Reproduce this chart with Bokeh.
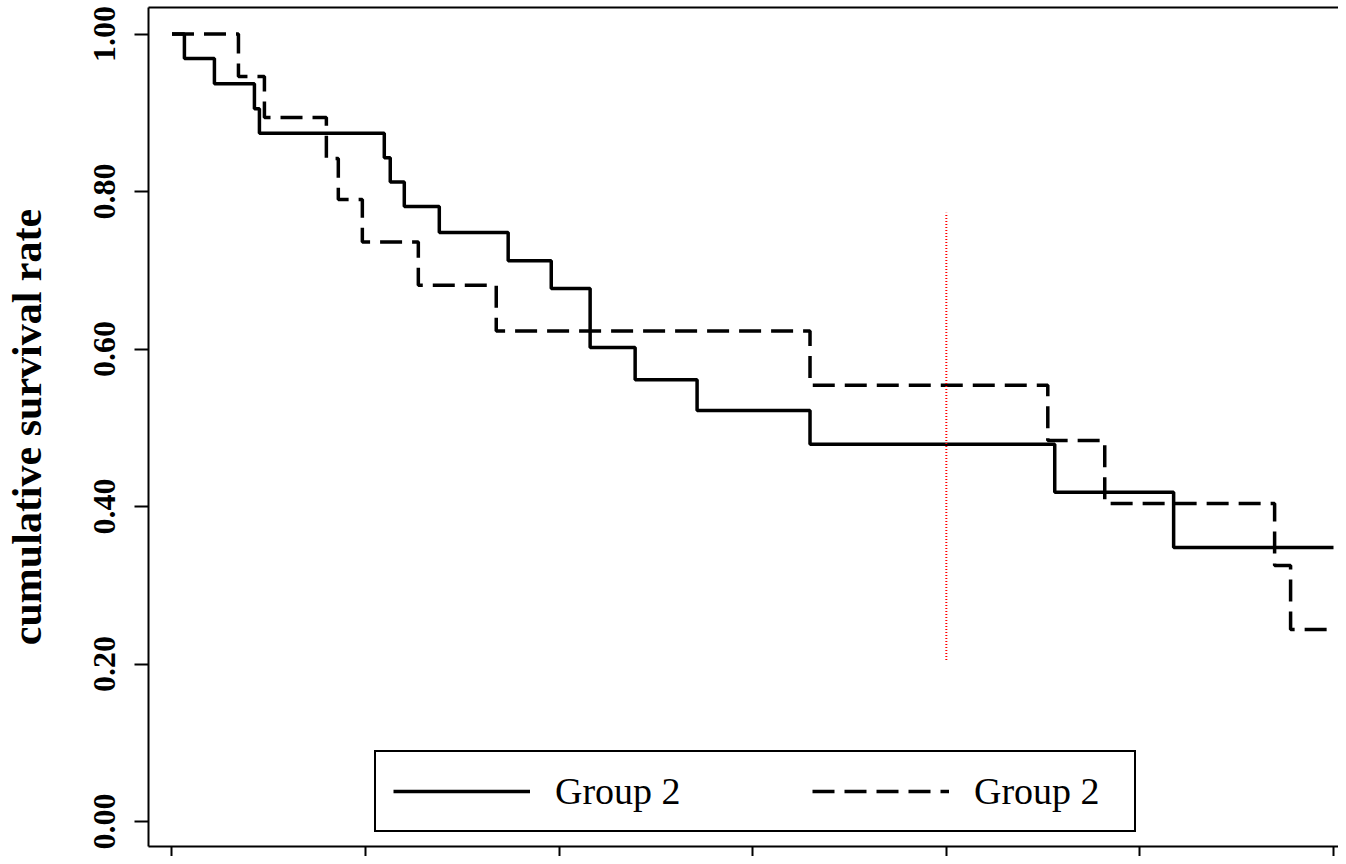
from bokeh.plotting import figure
from bokeh.models import (Range1d, LinearAxis, FixedTicker, NumeralTickFormatter,
                          Legend, LegendItem)
from bokeh.embed import file_html
from bokeh.resources import INLINE

# ---------------- data ----------------
solid_time = [0, 0.77, 2.63, 5.11, 5.42, 13.16, 13.53, 14.40, 16.57, 20.84,
              23.51, 25.92, 28.71, 32.55, 39.55, 54.72, 62.09, 72.0]
solid_surv = [1.0, 0.969, 0.937, 0.905, 0.874, 0.843, 0.812, 0.781, 0.748, 0.712,
              0.677, 0.602, 0.561, 0.522, 0.479, 0.418, 0.348, 0.348]
dash_time = [0, 4.12, 5.73, 9.57, 10.31, 11.80, 15.27, 20.10, 39.55, 54.29,
             57.82, 68.35, 69.34, 72.0]
dash_surv = [1.0, 0.946, 0.894, 0.842, 0.790, 0.736, 0.681, 0.623, 0.554, 0.484,
             0.404, 0.325, 0.244, 0.244]
x_ticks = [0, 12, 24, 36, 48, 60, 72]
y_ticks = [0.0, 0.2, 0.4, 0.6, 0.8, 1.0]
ref_time = [48]
ref_low = [0.205]
ref_high = [0.773]
legend_labels = ["Group 2", "Group 2"]
y_label = "cumulative survival rate"

SERIF = "Liberation Serif"

p = figure(width=1338, height=856,
           x_range=Range1d(-1.456, 72.31), y_range=Range1d(-0.0317, 1.0337),
           output_backend="svg", toolbar_location=None,
           min_border_left=147, min_border_right=0, min_border_top=7,
           min_border_bottom=10)
p.outline_line_color = None
p.grid.visible = False
p.background_fill_color = "white"
p.border_fill_color = "white"

# bottom axis: ticks only (labels fall outside the picture in the reference)
xa = p.xaxis[0]
xa.ticker = FixedTicker(ticks=x_ticks)
xa.major_tick_out = 10
xa.major_tick_in = 0
xa.minor_tick_out = 0
xa.minor_tick_in = 0
xa.major_tick_line_width = 2
xa.axis_line_width = 2
xa.major_label_text_font_size = "0px"
xa.major_label_text_color = None
xa.major_label_standoff = 0

# left axis
ya = p.yaxis[0]
ya.ticker = FixedTicker(ticks=y_ticks)
ya.formatter = NumeralTickFormatter(format="0.00")
ya.major_label_orientation = "vertical"
ya.major_tick_out = 14
ya.major_tick_in = 0
ya.minor_tick_out = 0
ya.minor_tick_in = 0
ya.major_tick_line_width = 2
ya.axis_line_width = 2
ya.major_label_text_font = SERIF
ya.major_label_text_font_style = "bold"
ya.major_label_text_font_size = "32px"
ya.major_label_text_color = "black"
ya.major_label_standoff = 19
ya.axis_label = y_label
ya.axis_label_text_font = SERIF
ya.axis_label_text_font_style = "bold"
ya.axis_label_text_font_size = "42px"
ya.axis_label_text_color = "black"
ya.axis_label_standoff = 42

# top border line
top = LinearAxis(ticker=FixedTicker(ticks=[]), axis_line_width=2,
                 major_tick_out=0, major_tick_in=0, minor_tick_out=0, minor_tick_in=0,
                 major_label_text_font_size="0px", major_label_text_color=None,
                 major_label_standoff=0)
p.add_layout(top, "above")

# curves
r1 = p.step(solid_time, solid_surv, mode="after", line_color="black", line_width=3.5)
r2 = p.step(dash_time, dash_surv, mode="after", line_color="black", line_width=3.5,
            line_dash="22 10")

# red dotted reference line
p.segment(x0=ref_time, y0=ref_low, x1=ref_time, y1=ref_high,
          line_color="#ff0000", line_width=2, line_dash="1 2")

legend = Legend(items=[LegendItem(label=legend_labels[0], renderers=[r1]),
                       LegendItem(label=legend_labels[1], renderers=[r2])],
                orientation="horizontal", location=(226, 14),
                glyph_width=137, glyph_height=44, label_height=44, label_width=143,
                label_standoff=25, spacing=114, padding=17, margin=0,
                label_text_font=SERIF, label_text_font_size="38px",
                label_text_color="black",
                border_line_color="black", border_line_width=2, border_line_alpha=1.0,
                background_fill_color="white", background_fill_alpha=1.0)
p.add_layout(legend)

open("out.html", "w").write(file_html(p, INLINE))
